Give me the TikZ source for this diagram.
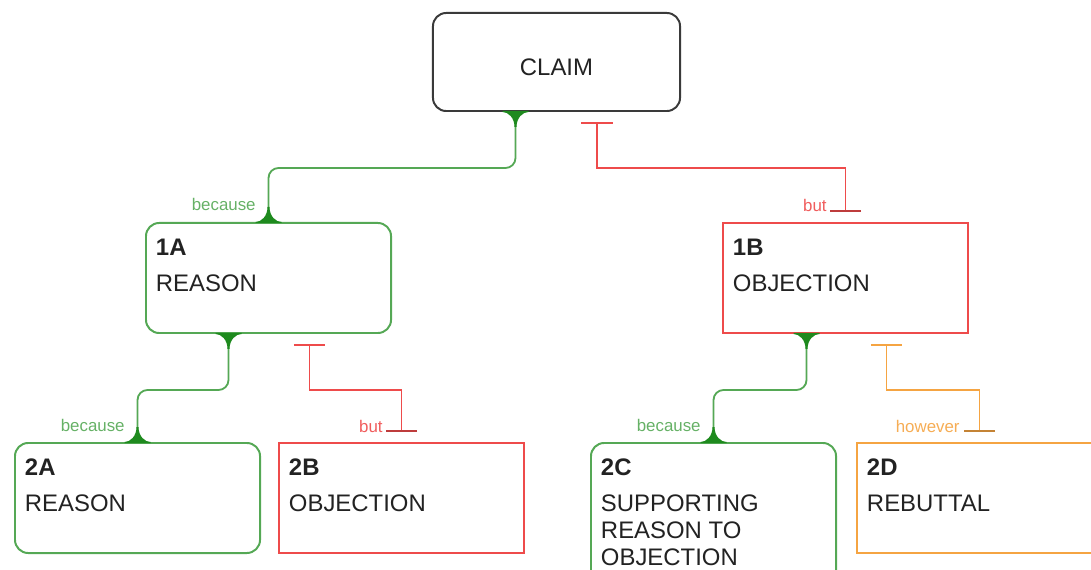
\documentclass[tikz,border=0pt]{standalone}
\usepackage{fontspec}
\setmainfont{Liberation Sans}
\usepackage{tikz}
\usetikzlibrary{arrows.meta,calc}
\definecolor{claimgray}{HTML}{3A3A3A}
\definecolor{leafgreen}{HTML}{55A855}
\definecolor{deepgreen}{HTML}{1E8A1E}
\definecolor{objred}{HTML}{EE4B4B}
\definecolor{rebutorange}{HTML}{F5A442}
\definecolor{inkblack}{HTML}{222222}
\newcommand{\argbody}[3][1.95cm]{\parbox[t][#1][t]{5.625cm}{\textbf{#2}\\[6.4pt]#3}}
\tikzset{
  claimbox/.style={
    rectangle, rounded corners=0.33cm, draw=claimgray, line width=1.4pt,
    minimum width=6.175cm, minimum height=2.45cm,
    text height=0.675cm, text depth=0pt,
    font=\fontsize{17}{19.1}\selectfont, text=inkblack
  },
  argbox/.style={
    rectangle, draw=#1, line width=1.4pt, fill=white,
    minimum width=6.125cm, minimum height=2.75cm,
    inner xsep=0.25cm, inner ysep=0.4cm, anchor=north west,
    font=\fontsize{17}{19.1}\selectfont, text=inkblack
  },
  argbox/.default=leafgreen,
  supportbox/.style={argbox=leafgreen, rounded corners=0.33cm},
  objectbox/.style={argbox=objred},
  rebutbox/.style={argbox=rebutorange},
  supportline/.style={
    draw=leafgreen, line width=1.3pt, rounded corners=0.25cm
  },
  opposeline/.style={
    draw=#1, line width=1.3pt,
    arrows={Bar[width=0.78cm]-Bar[width=0.78cm,color=#1!80!black]}
  },
  opposeline/.default=objred,
  cue/.style={
    font=\fontsize{12}{14}\selectfont, text=#1!90!white,
    inner sep=0pt, anchor=base east
  },
  flare/.pic={
    \fill[deepgreen] (-13,-1) -- (-13,0) .. controls (-7,0) and (-1,6) .. (-1,15)
      -- (1,15) .. controls (1,6) and (7,0) .. (13,0) -- (13,-1) -- cycle;
  }
}
\begin{document}
\begin{tikzpicture}[x=0.025cm, y=-0.025cm]
  \clip (0,0) rectangle (1091,570);

  % Claim at the top
  \node[claimbox] (claim) at (556.5,62) {CLAIM};

  % First level
  \node[supportbox] (r1a) at (145,222) {\argbody{1A}{REASON}};
  \node[objectbox] (o1b) at (722,222) {\argbody{1B}{OBJECTION}};

  % Second level
  \node[supportbox] (r2a) at (14,442) {\argbody{2A}{REASON}};
  \node[objectbox] (o2b) at (278,442) {\argbody{2B}{OBJECTION}};
  \node[supportbox, minimum height=3.75cm] (r2c) at (590,442)
    {\argbody[2.95cm]{2C}{SUPPORTING\\REASON TO\\OBJECTION}};
  \node[rebutbox] (b2d) at (856,442) {\argbody{2D}{REBUTTAL}};

  % Supporting links
  \draw[supportline] ($(claim.south)+(-41,0)$) -- ++(0,56) -| (r1a.north)
    node[cue=leafgreen] (cue1a) at ($(r1a.north)+(-12,-11)$) {because};
  \draw[supportline] ($(r1a.south)+(-40,0)$) -- ++(0,56) -| (r2a.north)
    node[cue=leafgreen] (cue2a) at ($(r2a.north)+(-12,-11)$) {because};
  \draw[supportline] ($(o1b.south)+(-39,0)$) -- ++(0,56) -| (r2c.north)
    node[cue=leafgreen] (cue2c) at ($(r2c.north)+(-12,-11)$) {because};
  \path ($(claim.south)+(-41,0)$) pic {flare} (r1a.north) pic[rotate=180] {flare};
  \path ($(r1a.south)+(-40,0)$) pic {flare} (r2a.north) pic[rotate=180] {flare};
  \path ($(o1b.south)+(-39,0)$) pic {flare} (r2c.north) pic[rotate=180] {flare};

  % Opposing links
  \draw[opposeline] ($(claim.south)+(40.5,10)$) -- ++(0,46) -| ($(o1b.north)+(0,-10)$)
    node[cue=objred] (cue1b) at ($(o1b.north)+(-18,-10)$) {but};
  \draw[opposeline] ($(r1a.south)+(41,10)$) -- ++(0,46) -| ($(o2b.north)+(0,-10)$)
    node[cue=objred] (cue2b) at ($(o2b.north)+(-18,-10)$) {but};
  \draw[opposeline=rebutorange] ($(o1b.south)+(41,10)$) -- ++(0,46) -| ($(b2d.north)+(0,-10)$)
    node[cue=rebutorange] (cue2d) at ($(b2d.north)+(-19,-10)$) {however};
\end{tikzpicture}
\end{document}
